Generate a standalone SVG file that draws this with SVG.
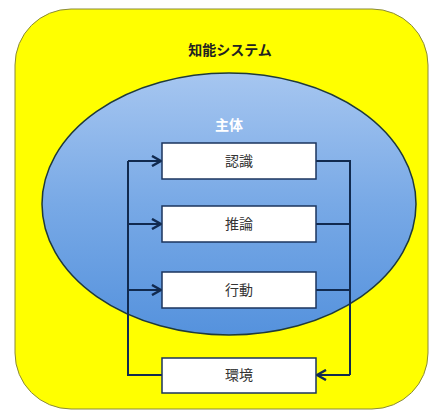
<svg xmlns="http://www.w3.org/2000/svg" width="433" height="413" viewBox="0 0 433 413">
<style>
.box{fill:#fff;stroke:#1b355e;stroke-width:1.5}
.lbl{font-family:"Liberation Sans","Noto Sans CJK JP",sans-serif;font-size:14px;fill:#333;text-anchor:middle;dominant-baseline:central}
.conn{fill:none;stroke:#112a4f;stroke-width:2}
</style>
<defs>
<linearGradient id="blue" x1="0" y1="0" x2="0" y2="1">
<stop offset="0" stop-color="#a6c6f0"/>
<stop offset="0.5" stop-color="#78a9e6"/>
<stop offset="1" stop-color="#5592dd"/>
</linearGradient>
<marker id="arr" viewBox="0 0 12 12" refX="11" refY="6" markerWidth="12" markerHeight="12" markerUnits="userSpaceOnUse" orient="auto">
<path d="M2,1 L11,6 L2,11" fill="none" stroke="#112a4f" stroke-width="2.5"/>
</marker>
</defs>
<g id="system">
<rect x="15" y="9" width="413" height="400" rx="56" fill="#ffff00" stroke="#8a8a3a" stroke-width="1"/>
<text class="lbl" x="230" y="50" style="fill:#222;font-weight:bold">知能システム</text>
</g>
<g id="agent">
<ellipse cx="229" cy="204" rx="187" ry="131" fill="url(#blue)" stroke="#1f3a3a" stroke-width="1.5"/>
<text class="lbl" x="229" y="125" style="fill:#ffffff;font-weight:bold">主体</text>
</g>
<g id="connectors">
<path class="conn" d="M162,375 H128 V161"/>
<path class="conn" d="M128,161 H161" marker-end="url(#arr)"/>
<path class="conn" d="M128,224 H161" marker-end="url(#arr)"/>
<path class="conn" d="M128,290 H161" marker-end="url(#arr)"/>
<path class="conn" d="M316,161 H350 V375"/>
<path class="conn" d="M316,224 H350"/>
<path class="conn" d="M316,290 H350"/>
<path class="conn" d="M350,375 H317" marker-end="url(#arr)"/>
</g>
<g id="ninshiki"><rect class="box" x="162" y="143" width="154" height="36"/><text class="lbl" x="239" y="161">認識</text></g>
<g id="suiron"><rect class="box" x="162" y="206" width="154" height="36"/><text class="lbl" x="239" y="224">推論</text></g>
<g id="koudou"><rect class="box" x="162" y="272" width="154" height="36"/><text class="lbl" x="239" y="290">行動</text></g>
<g id="kankyou"><rect class="box" x="162" y="358" width="154" height="35"/><text class="lbl" x="239" y="375">環境</text></g>
</svg>
